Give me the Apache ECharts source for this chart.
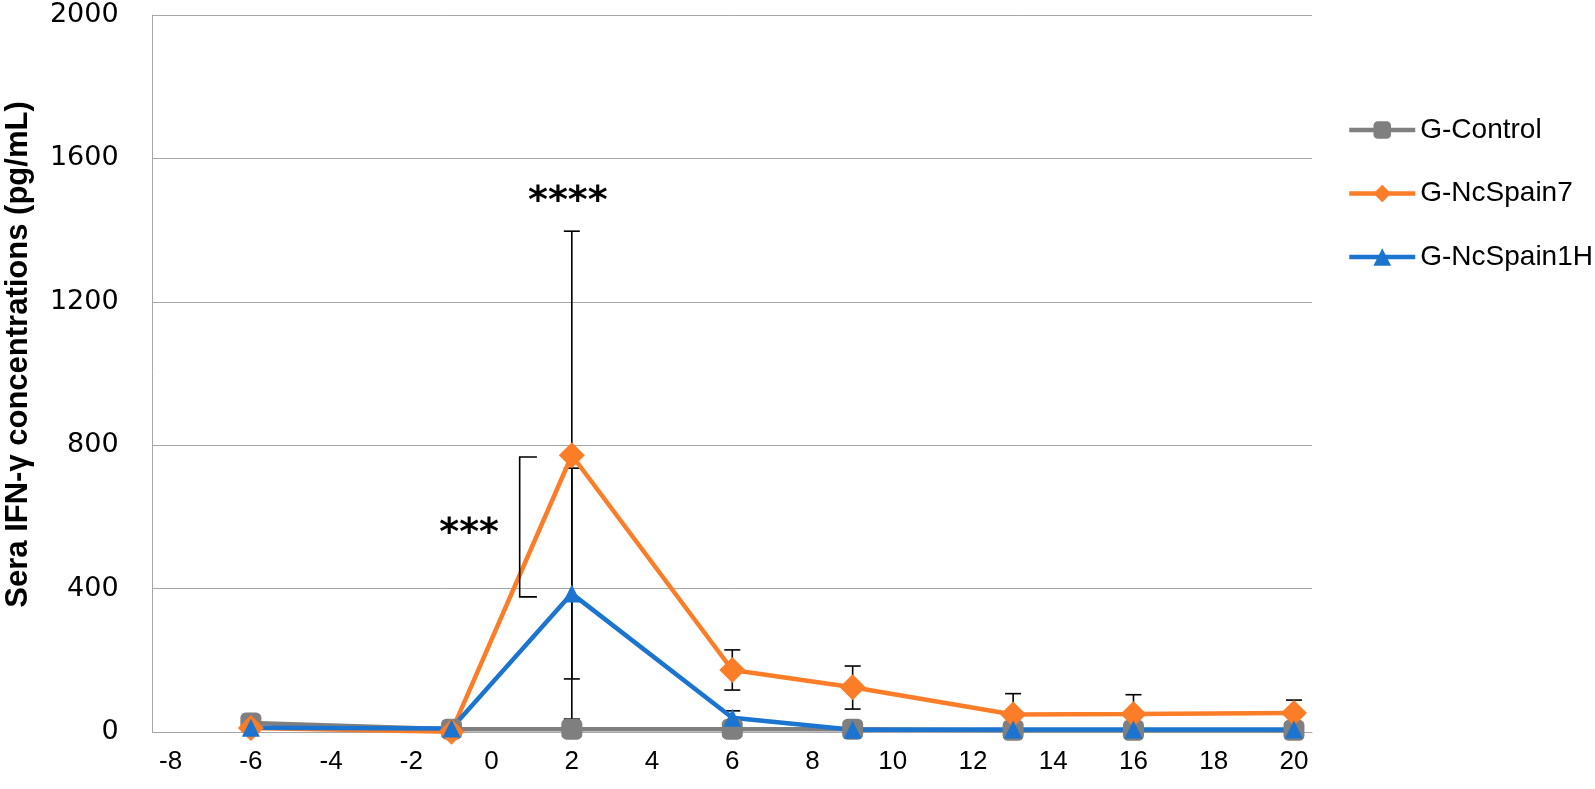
<!DOCTYPE html>
<html>
<head>
<meta charset="utf-8">
<script src="https://cdn.jsdelivr.net/npm/echarts@6/dist/echarts.min.js"></script>
<style>
  html, body { margin: 0; padding: 0; background: #ffffff; }
  #chart { width: 1595px; height: 789px; }
</style>
</head>
<body>
<div id="chart"></div>
<script>
// ---- data ----
const days = [-6, -1, 2, 6, 9, 13, 16, 20];
const xTickLabels = [-8, -6, -4, -2, 0, 2, 4, 6, 8, 10, 12, 14, 16, 18, 20];
const seriesNames = ['G-Control', 'G-NcSpain7', 'G-NcSpain1H'];
const gControl = [25, 8, 8, 8, 8, 5, 5, 5];
const gNcSpain7 = [11, 1, 772, 173, 125, 49, 50, 53];
const gNcSpain1H = [12, 10, 386, 40, 6, 7, 7, 7];
// error bars: [day, low, high]
const errNcSpain7 = [[2, 148, 1397], [6, 117, 229], [9, 64, 184], [13, 26, 107], [16, 21, 104], [20, 17, 89]];
const errNcSpain1H = [[2, 36, 736], [6, 21, 59]];
// significance annotations
const bracket = [[0.70, 1.13, 377, 767]];           // x of bar, x of tick ends, y low, y high
const starLabels = [[1.9, 1478, '****'], [-0.56, 552, '***']];

const chart = echarts.init(document.getElementById('chart'));

function pairs(ys) { return days.map((d, i) => [d, ys[i]]); }

function errRender(params, api) {
  const x = api.value(0);
  const pLo = api.coord([x, api.value(1)]);
  const pHi = api.coord([x, api.value(2)]);
  const hw = 8;
  const st = { stroke: '#000000', lineWidth: 1.6 };
  return {
    type: 'group',
    children: [
      { type: 'line', shape: { x1: pLo[0], y1: pLo[1], x2: pHi[0], y2: pHi[1] }, style: st },
      { type: 'line', shape: { x1: pHi[0] - hw, y1: pHi[1], x2: pHi[0] + hw, y2: pHi[1] }, style: st },
      { type: 'line', shape: { x1: pLo[0] - hw, y1: pLo[1], x2: pLo[0] + hw, y2: pLo[1] }, style: st }
    ]
  };
}

function bracketRender(params, api) {
  const pLo = api.coord([api.value(0), api.value(2)]);
  const pHi = api.coord([api.value(0), api.value(3)]);
  const xe = api.coord([api.value(1), 0])[0];
  return {
    type: 'polyline',
    shape: { points: [[xe, pHi[1]], [pLo[0], pHi[1]], [pLo[0], pLo[1]], [xe, pLo[1]]] },
    style: { stroke: '#000000', lineWidth: 1.6, fill: null }
  };
}

function starRender(params, api) {
  const p = api.coord([api.value(0), api.value(1)]);
  return {
    type: 'text',
    x: p[0], y: p[1],
    style: {
      text: starLabels[params.dataIndex][2],
      font: 'bold 38px "DejaVu Sans"',
      fill: '#000000',
      align: 'center',
      verticalAlign: 'middle'
    }
  };
}

const lineBase = { type: 'line', z: 3, lineStyle: { width: 4.5 }, emphasis: { disabled: true } };

chart.setOption({
  animation: false,
  backgroundColor: '#ffffff',
  grid: { left: 152.6, right: 283, top: 15, bottom: 57, containLabel: false, outerBoundsMode: 'none' },
  legend: {
    data: seriesNames,
    orient: 'vertical',
    left: 1347,
    top: 116,
    padding: 0,
    itemWidth: 66,
    itemHeight: 22,
    itemGap: 35.5,
    lineStyle: { width: 4.5 },
    textStyle: { fontFamily: 'Liberation Sans', fontSize: 28, lineHeight: 24, color: '#000000' }
  },
  xAxis: {
    type: 'value',
    min: -8.45,
    max: 20.45,
    axisLine: { show: true, onZero: false, lineStyle: { color: '#a6a6a6', width: 1 } },
    axisTick: { show: false },
    splitLine: { show: false },
    axisLabel: {
      customValues: xTickLabels,
      fontFamily: 'Liberation Sans',
      fontSize: 26,
      color: '#000000',
      margin: 17
    }
  },
  yAxis: {
    type: 'value',
    min: 0,
    max: 2000,
    interval: 400,
    name: 'Sera IFN-γ concentrations (pg/mL)',
    nameLocation: 'middle',
    nameGap: 119,
    nameRotate: 90,
    nameTextStyle: {
      fontFamily: 'Liberation Sans', fontWeight: 'bold', fontSize: 31, color: '#000000',
      padding: [0, 0, 0, 38]
    },
    axisLine: { show: true, onZero: false, lineStyle: { color: '#a6a6a6', width: 1 } },
    axisTick: { show: false },
    splitLine: { show: true, lineStyle: { color: '#a6a6a6', width: 1 } },
    axisLabel: {
      formatter: v => String(v),
      fontFamily: 'DejaVu Sans', fontSize: 27, color: '#000000', margin: 34
    }
  },
  series: [
    { type: 'custom', name: 'errNcSpain7', renderItem: errRender, data: errNcSpain7, z: 2, silent: true },
    { type: 'custom', name: 'errNcSpain1H', renderItem: errRender, data: errNcSpain1H, z: 2, silent: true },
    Object.assign({}, lineBase, {
      name: seriesNames[0], data: pairs(gControl),
      color: '#7f7f7f', symbol: 'roundRect', symbolSize: 21
    }),
    Object.assign({}, lineBase, {
      name: seriesNames[1], data: pairs(gNcSpain7),
      color: '#fb7d28', symbol: 'diamond', symbolSize: 26
    }),
    Object.assign({}, lineBase, {
      name: seriesNames[2], data: pairs(gNcSpain1H),
      color: '#1b74d0', symbol: 'triangle', symbolSize: 18
    }),
    { type: 'custom', name: 'bracket', renderItem: bracketRender, data: bracket, z: 4, silent: true },
    { type: 'custom', name: 'stars', renderItem: starRender, data: starLabels.map(s => [s[0], s[1]]), z: 4, silent: true }
  ]
});
</script>
</body>
</html>
